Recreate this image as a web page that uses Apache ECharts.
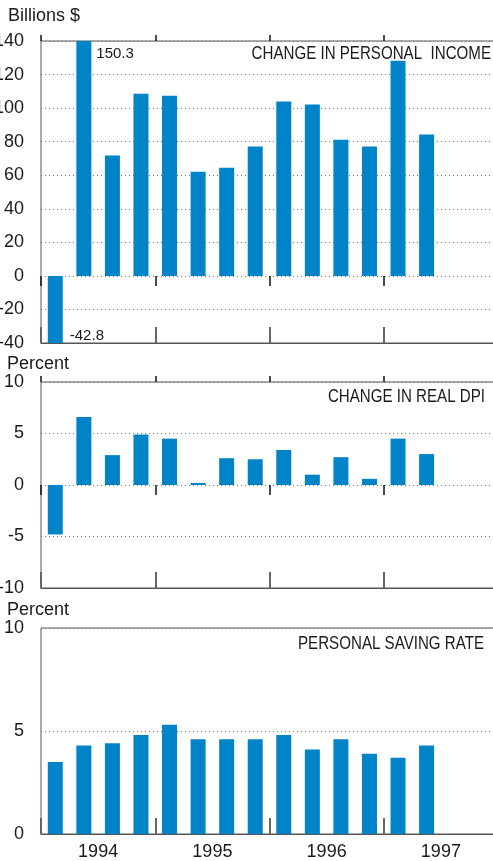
<!DOCTYPE html>
<html>
<head>
<meta charset="UTF-8">
<title>Personal income</title>
<script src="https://cdn.jsdelivr.net/npm/echarts@6/dist/echarts.min.js"></script>
<style>
  html, body { margin: 0; padding: 0; background: #fff; overflow: hidden; }
  #chart { width: 500px; height: 861px; }
</style>
</head>
<body>
<div id="chart"></div>
<script>
// quarterly categories, 1994 Q1 .. 1997 Q4 (data ends at 1997 Q2)
var quarters = [];
var years = ['1994', '1995', '1996', '1997'];
years.forEach(function (y) {
  ['Q1', 'Q2', 'Q3', 'Q4'].forEach(function (q) { quarters.push(y + ' ' + q); });
});

// change in personal income, billions $
var incomeChange = [-42.8, 150.3, 71.7, 108.5, 107.3, 62.0, 64.4, 77.1, 103.9, 102.1, 81.2, 77.1, 128.3, 84.2];
// change in real DPI, percent
var realDpiChange = [-4.8, 6.6, 2.9, 4.9, 4.5, 0.2, 2.6, 2.5, 3.4, 1.0, 2.7, 0.6, 4.5, 3.0];
// personal saving rate, percent
var savingRate = [3.5, 4.3, 4.4, 4.8, 5.3, 4.6, 4.6, 4.6, 4.8, 4.1, 4.6, 3.9, 3.7, 4.3];

var barColor = '#0084c7';
var textColor = '#1a1a1a';
var axisFont = '"Liberation Sans", Arial, sans-serif';

var dom = document.getElementById('chart');
var myChart = echarts.init(dom);

// bottom axis of a panel: border line plus inside ticks at year boundaries
function quarterAxis(grid) {
  return {
    type: 'category', gridIndex: grid, data: quarters, position: 'bottom',
    boundaryGap: true,
    axisLine: { show: true, onZero: false, lineStyle: { color: '#555', width: 1 } },
    axisTick: { show: true, inside: true, interval: 3, length: 16, lineStyle: { color: '#666', width: 2 } },
    axisLabel: { show: false },
    splitLine: { show: false }
  };
}
// small year-boundary ticks crossing the zero line
function zeroTicks(grid, pos, len) {
  return {
    type: 'category', gridIndex: grid, data: quarters, position: pos,
    boundaryGap: true,
    axisLine: { show: true, onZero: true, lineStyle: { opacity: 0 } },
    axisTick: { show: true, inside: false, interval: 3, length: len, lineStyle: { color: '#111', width: 1.5 } },
    axisLabel: { show: false },
    splitLine: { show: false }
  };
}
function valueAxis(grid, min, max, step) {
  return {
    type: 'value', gridIndex: grid, min: min, max: max, interval: step,
    axisLine: { show: false },
    axisTick: { show: false },
    axisLabel: { color: textColor, fontSize: 18, fontFamily: axisFont, margin: 17 },
    splitLine: { show: true, lineStyle: { color: '#777', type: [1, 3], width: 1 } }
  };
}
// condensed panel title, right aligned
function panelTitle(text, right, cy) {
  return {
    type: 'text', x: right, y: cy, scaleX: 0.84,
    style: { text: text, fill: textColor, font: '18px "Liberation Sans", Arial, sans-serif', textAlign: 'right', textVerticalAlign: 'middle' }
  };
}

function barData(values, labeled) {
  return values.map(function (v, i) {
    if (labeled[i]) {
      return { value: v, label: labeled[i] };
    }
    return v;
  });
}

var labelStyle = { show: true, color: textColor, fontSize: 15, fontFamily: axisFont, align: 'left', verticalAlign: 'middle' };
var gridBase = { left: 41, width: 457, show: true, borderColor: '#555', borderWidth: 1, outerBoundsMode: 'none', containLabel: false };

var option = {
  animation: false,
  title: [
    { text: 'Billions $', left: 8, top: 7, padding: 0, textStyle: { color: textColor, fontSize: 18, fontWeight: 'normal', fontFamily: axisFont } },
    { text: 'Percent', left: 7, top: 355, padding: 0, textStyle: { color: textColor, fontSize: 18, fontWeight: 'normal', fontFamily: axisFont } },
    { text: 'Percent', left: 7, top: 601, padding: 0, textStyle: { color: textColor, fontSize: 18, fontWeight: 'normal', fontFamily: axisFont } }
  ],
  graphic: [
    panelTitle('CHANGE IN PERSONAL  INCOME', 491, 54),
    panelTitle('CHANGE IN REAL DPI', 485, 397),
    panelTitle('PERSONAL SAVING RATE', 484, 644)
  ],
  grid: [
    Object.assign({}, gridBase, { top: 41, height: 302 }),
    Object.assign({}, gridBase, { top: 382, height: 206 }),
    Object.assign({}, gridBase, { top: 628, height: 206 })
  ],
  xAxis: [
    quarterAxis(0), zeroTicks(0, 'bottom', 10), zeroTicks(0, 'top', 6),
    quarterAxis(1), zeroTicks(1, 'bottom', 10), zeroTicks(1, 'top', 6),
    quarterAxis(2),
    {
      type: 'category', gridIndex: 2, data: years, position: 'bottom',
      axisLine: { show: false, onZero: false }, axisTick: { show: false },
      axisLabel: { color: textColor, fontSize: 18, fontFamily: axisFont, margin: 9 }
    }
  ],
  yAxis: [
    valueAxis(0, -40, 140, 20),
    valueAxis(1, -10, 10, 5),
    valueAxis(2, 0, 10, 5)
  ],
  series: [
    {
      name: 'Change in personal income', type: 'bar', xAxisIndex: 0, yAxisIndex: 0,
      barWidth: 15, clip: true, itemStyle: { color: barColor },
      data: barData(incomeChange, {
        0: Object.assign({}, labelStyle, { position: [22, 60] }),
        1: Object.assign({}, labelStyle, { position: [20, 13] })
      })
    },
    {
      name: 'Change in real DPI', type: 'bar', xAxisIndex: 3, yAxisIndex: 1,
      barWidth: 15, itemStyle: { color: barColor },
      data: realDpiChange
    },
    {
      name: 'Personal saving rate', type: 'bar', xAxisIndex: 6, yAxisIndex: 2,
      barWidth: 15, itemStyle: { color: barColor },
      data: savingRate
    }
  ]
};
if (option && typeof option === 'object') {
  myChart.setOption(option, true);
}
</script>
</body>
</html>
